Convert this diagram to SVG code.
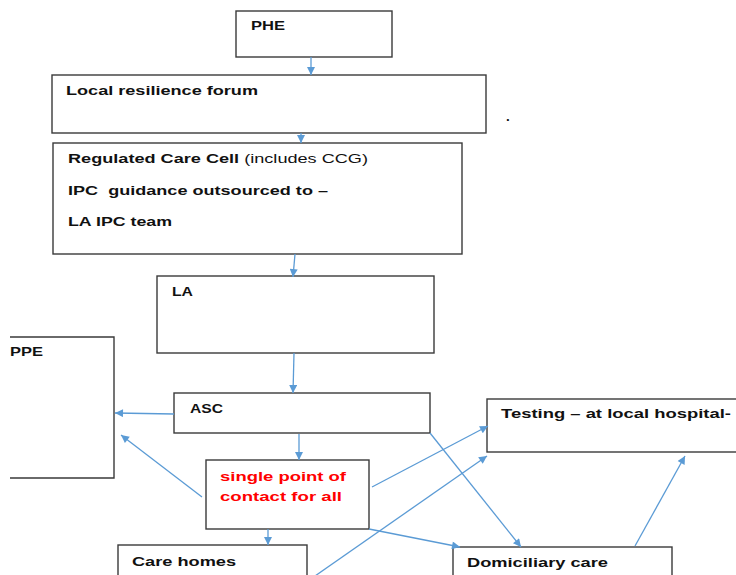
<svg xmlns="http://www.w3.org/2000/svg" width="736" height="575" viewBox="0 0 736 575">
<style>
.box{fill:#fff;stroke:#3a3a3a;stroke-width:1.4}
.t{font-family:"Liberation Sans",Arial,sans-serif;font-size:13.5px;font-weight:bold;fill:#111}
.r{fill:#ff0000}
.n{font-weight:normal}
.pre{white-space:pre}
.c line{stroke:#5b9bd5;stroke-width:1.3;marker-end:url(#ah)}
</style>
<defs>
<marker id="ah" viewBox="0 0 10 10" refX="10" refY="5" markerWidth="9" markerHeight="8" markerUnits="userSpaceOnUse" orient="auto">
<path d="M0,0 L10,5 L0,10 z" fill="#5b9bd5"/>
</marker>
</defs>
<rect width="736" height="575" fill="#fff"/>
<g id="phe"><rect class="box" x="236" y="11" width="156" height="46"/><text class="t" x="251" y="30" textLength="34" lengthAdjust="spacingAndGlyphs">PHE</text></g>
<g id="lrf"><rect class="box" x="52" y="75" width="434" height="58"/><text class="t" x="66" y="95" textLength="192" lengthAdjust="spacingAndGlyphs">Local resilience forum</text></g>
<g id="dot"><text class="t" x="506" y="121">.</text></g>
<g id="rcc"><rect class="box" x="53" y="143" width="409" height="111"/>
<text class="t" x="68" y="163" textLength="300" lengthAdjust="spacingAndGlyphs">Regulated Care Cell <tspan class="n">(includes CCG)</tspan></text>
<text class="t pre" x="68" y="195" textLength="260" lengthAdjust="spacingAndGlyphs" xml:space="preserve">IPC  guidance outsourced to –</text>
<text class="t" x="68" y="226" textLength="104" lengthAdjust="spacingAndGlyphs">LA IPC team</text></g>
<g id="la"><rect class="box" x="157" y="276" width="277" height="77"/><text class="t" x="172" y="296" textLength="21" lengthAdjust="spacingAndGlyphs">LA</text></g>
<g id="ppe"><polyline class="box" points="10,337 114,337 114,478 10,478" fill="none"/><text class="t" x="10" y="356" textLength="33" lengthAdjust="spacingAndGlyphs">PPE</text></g>
<g id="asc"><rect class="box" x="174" y="393" width="256" height="40"/><text class="t" x="190" y="413" textLength="33" lengthAdjust="spacingAndGlyphs">ASC</text></g>
<g id="testing"><rect class="box" x="487" y="399" width="260" height="53"/><text class="t" x="501" y="418" textLength="230" lengthAdjust="spacingAndGlyphs">Testing – at local hospital-</text></g>
<g id="spoc"><rect class="box" x="206" y="460" width="163" height="69"/>
<text class="t r" x="220" y="481" textLength="126" lengthAdjust="spacingAndGlyphs">single point of</text>
<text class="t r" x="220" y="501" textLength="122" lengthAdjust="spacingAndGlyphs">contact for all</text></g>
<g id="carehomes"><rect class="box" x="118" y="545" width="189" height="40"/><text class="t" x="132" y="566" textLength="104" lengthAdjust="spacingAndGlyphs">Care homes</text></g>
<g id="dom"><rect class="box" x="453" y="547" width="219" height="40"/><text class="t" x="467" y="567" textLength="141" lengthAdjust="spacingAndGlyphs">Domiciliary care</text></g>
<g id="connectors" class="c">
<line x1="311" y1="57" x2="311" y2="75"/>
<line x1="301" y1="133" x2="301" y2="143"/>
<line x1="295" y1="254" x2="293" y2="277"/>
<line x1="294" y1="353" x2="293" y2="393"/>
<line x1="174" y1="414" x2="115" y2="413"/>
<line x1="299" y1="434" x2="299" y2="460"/>
<line x1="202" y1="497" x2="121" y2="435"/>
<line x1="372" y1="487" x2="488" y2="426"/>
<line x1="315" y1="576" x2="487" y2="456"/>
<line x1="430" y1="433" x2="521" y2="547"/>
<line x1="369" y1="529" x2="460" y2="547"/>
<line x1="268" y1="529" x2="268" y2="545"/>
<line x1="635" y1="546" x2="685" y2="456"/>
</g>
</svg>
